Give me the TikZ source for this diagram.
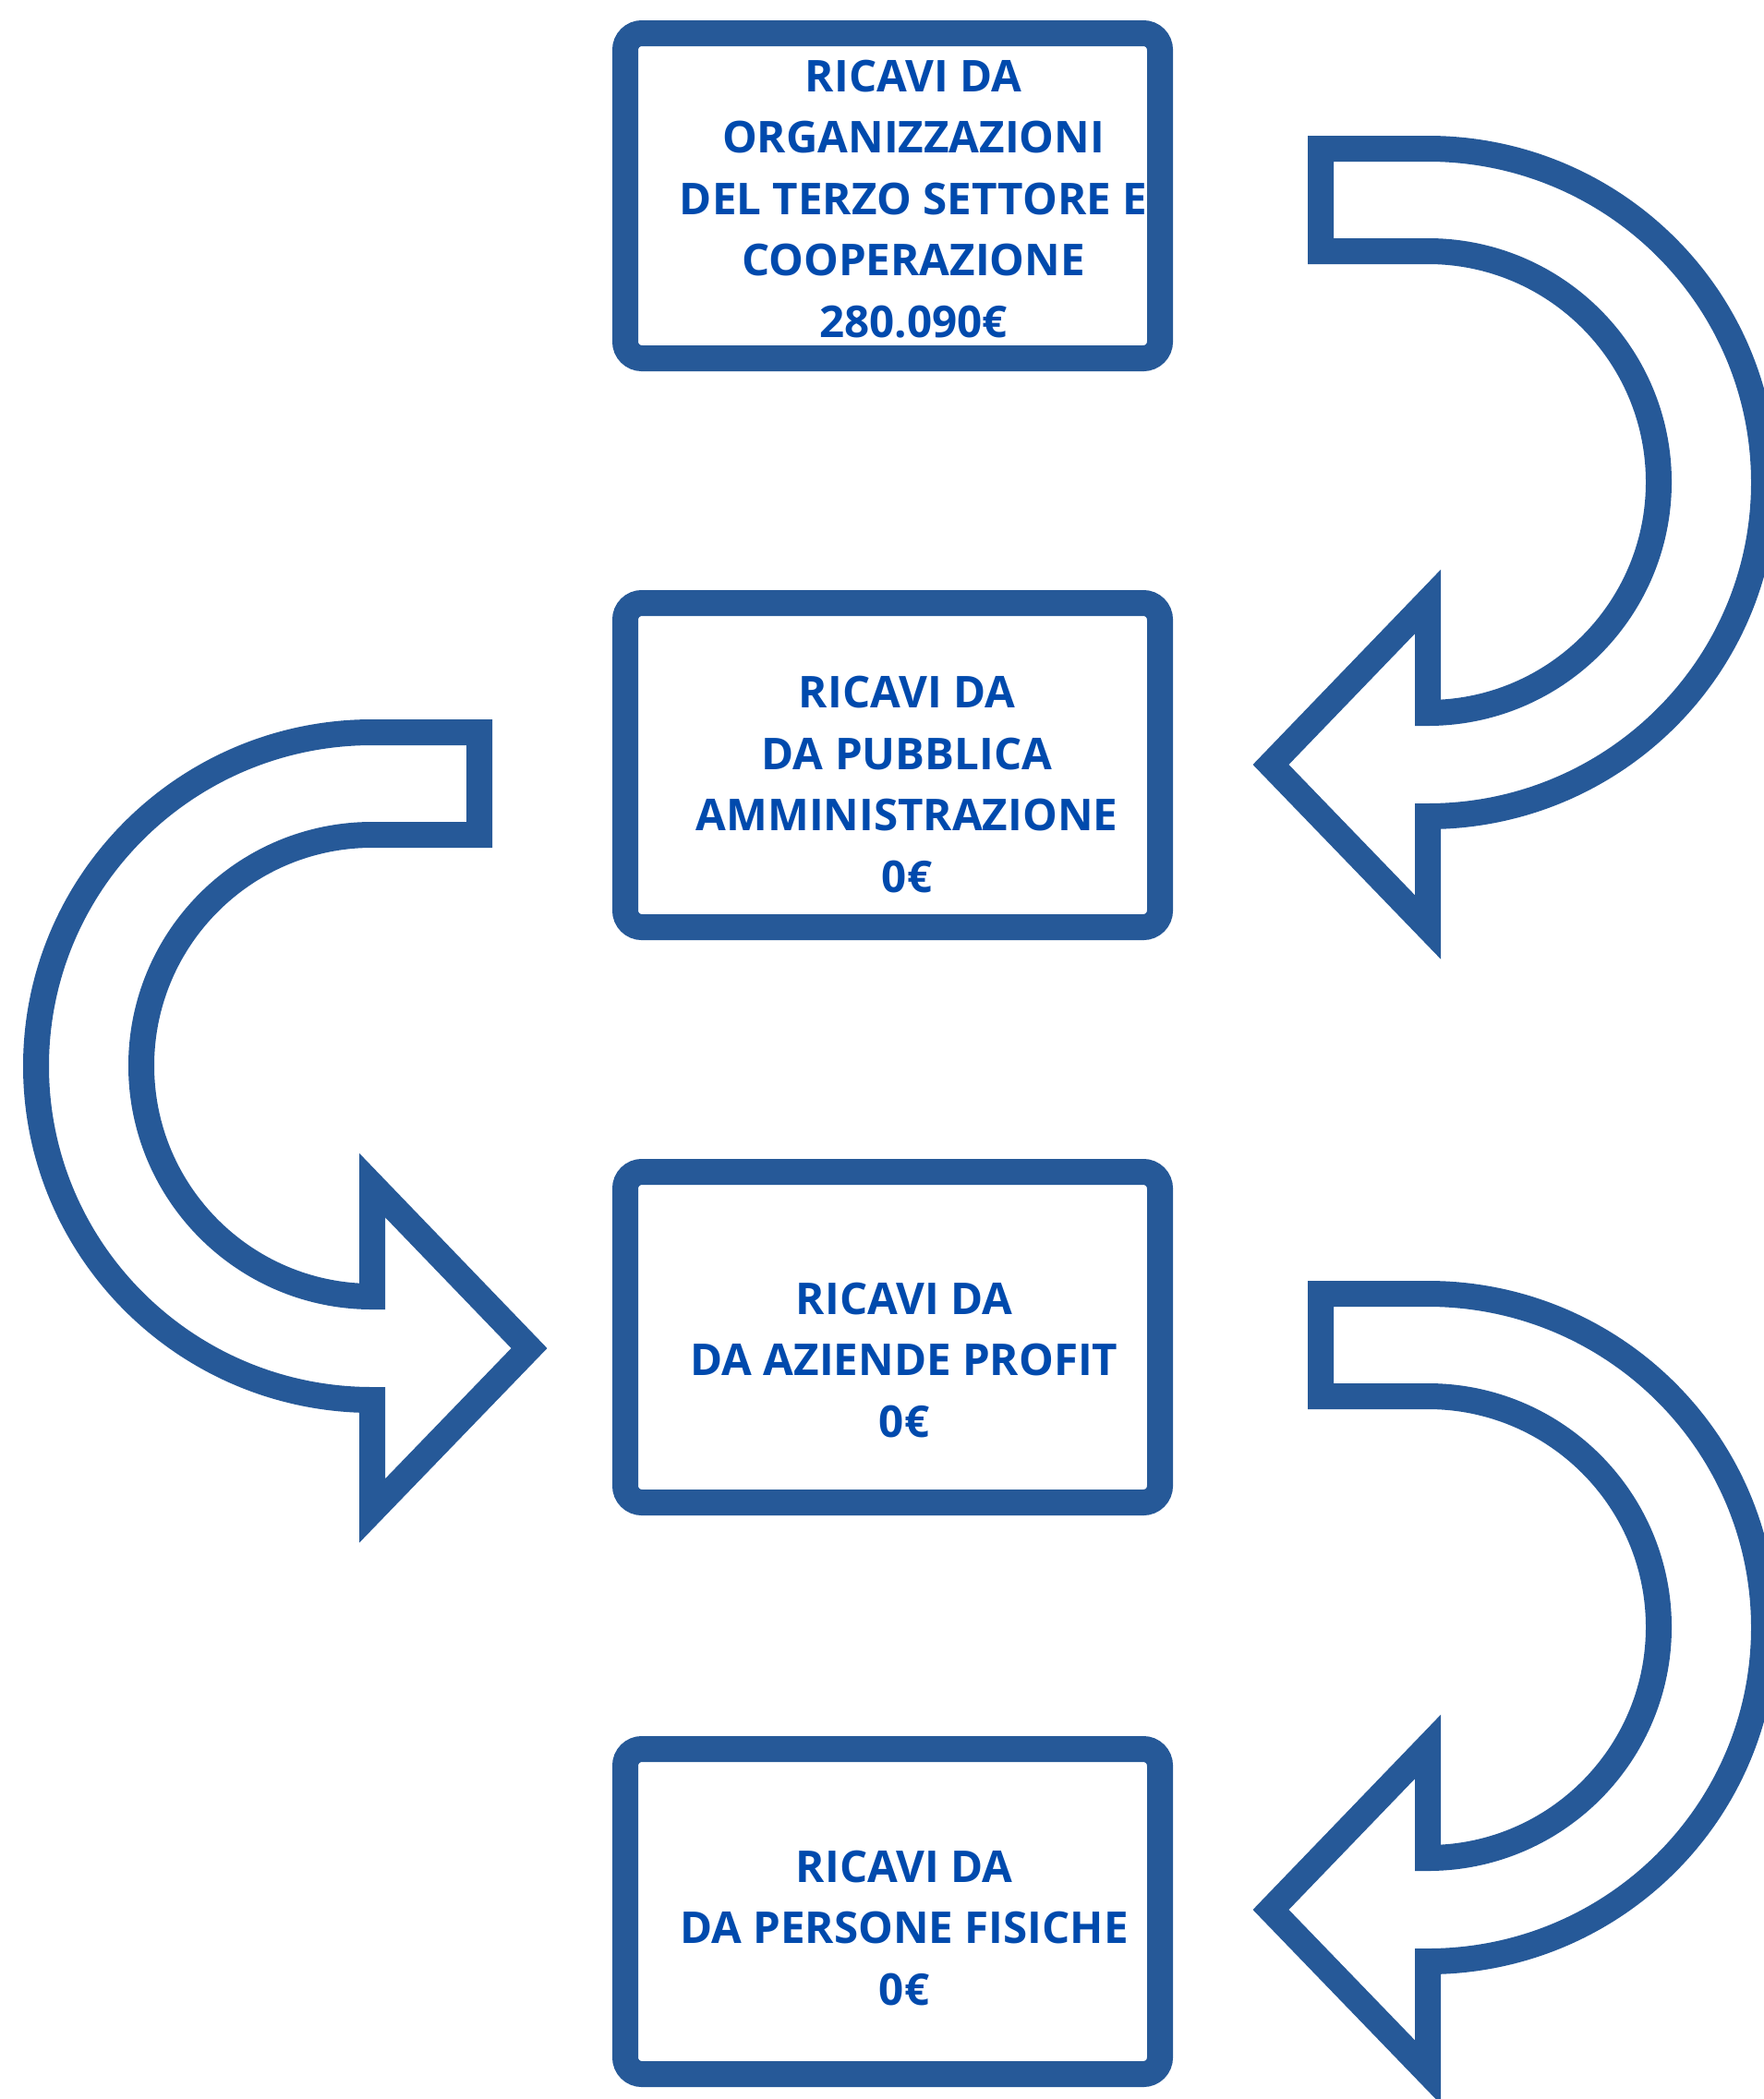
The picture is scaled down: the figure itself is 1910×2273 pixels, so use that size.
\documentclass[tikz,border=0pt]{standalone}
\usepackage{fontspec}
\setmainfont{Open Sans}
\definecolor{bordercol}{RGB}{38,89,152}
\definecolor{textcol}{RGB}{0,74,173}
\tikzset{
  rbox/.style={draw=bordercol, line width=28pt, rounded corners=18pt, fill=white,
    minimum width=579pt, inner sep=0pt},
  btext/.style={text=textcol, align=center, inner sep=0pt,
    font=\fontsize{47.5}{66.4}\selectfont\bfseries},
  arrowshape/.style={draw=bordercol, line width=28pt, fill=white, line join=miter},
  uturn/.pic={
    \draw[arrowshape] (1430,161) -- (1546,161)
      arc[start angle=-90, end angle=90, x radius=364, y radius=361.5]
      -- (1546,1004) -- (1376,828) -- (1546,651.5) -- (1546,772)
      arc[start angle=90, end angle=-90, x radius=250, y radius=250]
      -- (1430,272) -- cycle;
  }
}
\begin{document}
\begin{tikzpicture}[x=1pt,y=-1pt]
\path[use as bounding box] (0,0) rectangle (1910,2273);
\clip (0,0) rectangle (1910,2273);
% arrows
\pic (arr1) at (0,0) {uturn};
\pic[xscale=-1] (arr2) at (1949,632) {uturn};
\pic (arr3) at (0,1240) {uturn};
% boxes
\node[rbox, minimum height=352pt] (b1) at (966.5,212) {};
\node[rbox, minimum height=351pt] (b2) at (966.5,828.5) {};
\node[rbox, minimum height=358pt] (b3) at (966.5,1448) {};
\node[rbox, minimum height=352pt] (b4) at (966.5,2070) {};
% texts
\node[btext] (t1) at (989,215.5) {RICAVI DA\\ORGANIZZAZIONI\\DEL TERZO SETTORE E\\COOPERAZIONE\\280.090€};
\node[btext] (t2) at (982,849.5) {RICAVI DA\\DA PUBBLICA\\AMMINISTRAZIONE\\0€};
\node[btext] (t3) at (979,1473) {RICAVI DA\\DA AZIENDE PROFIT\\0€};
\node[btext] (t4) at (979,2088) {RICAVI DA\\DA PERSONE FISICHE\\0€};
\end{tikzpicture}
\end{document}
